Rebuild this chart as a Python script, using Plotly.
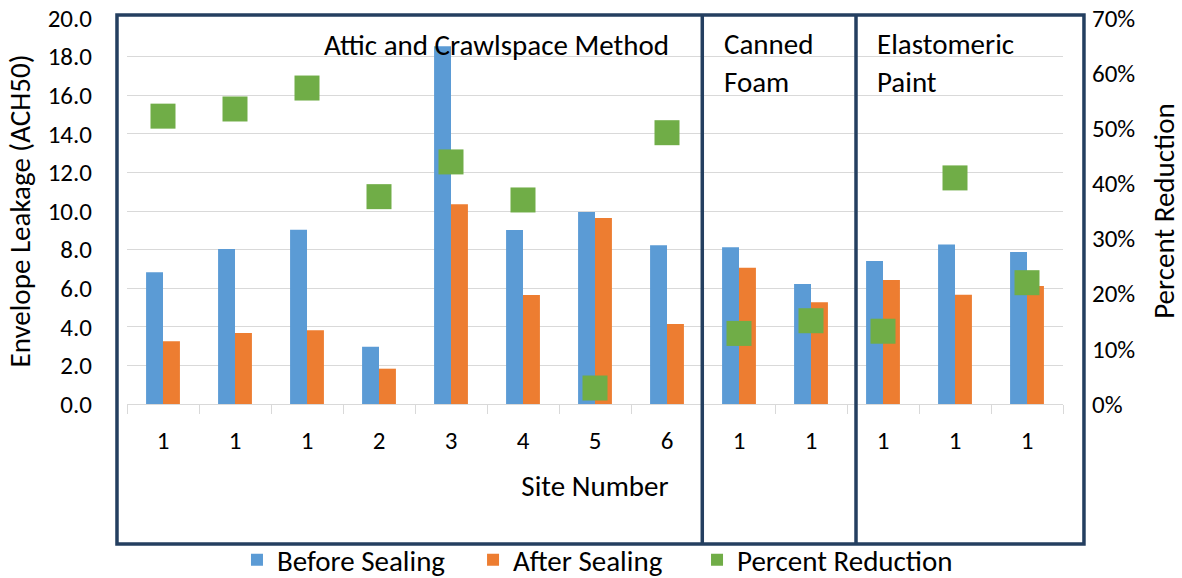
import plotly.graph_objects as go

site_labels = ["1", "1", "1", "2", "3", "4", "5", "6", "1", "1", "1", "1", "1"]
before_sealing = [6.82, 8.03, 9.03, 2.97, 18.53, 9.02, 9.95, 8.22, 8.12, 6.22, 7.41, 8.27, 7.88]
after_sealing = [3.25, 3.68, 3.82, 1.83, 10.35, 5.65, 9.64, 4.15, 7.06, 5.27, 6.42, 5.66, 6.11]
percent_reduction = [0.522, 0.535, 0.573, 0.376, 0.439, 0.370, 0.029, 0.492, 0.128, 0.151, 0.132, 0.410, 0.220]
positions = list(range(len(site_labels)))
boundaries = [p - 0.5 for p in positions] + [positions[-1] + 0.5]

FONT = "Carlito, Lato, sans-serif"
FS = 29
TFS = 25
TXT = "#000000"
BORDER = "#243F60"
GRID = "#D9D9D9"

fig = go.Figure()
fig.add_trace(go.Bar(x=positions, y=before_sealing, name="Before Sealing", legend="legend",
                     marker=dict(color="#5B9BD5", line=dict(width=0))))
fig.add_trace(go.Bar(x=positions, y=after_sealing, name="After Sealing", legend="legend2",
                     marker=dict(color="#ED7D31", line=dict(width=0))))
fig.add_trace(go.Scatter(x=positions, y=percent_reduction, name="Percent Reduction",
                         mode="markers", yaxis="y2", legend="legend3",
                         marker=dict(symbol="square", size=25, color="#70AD47")))
# invisible trace to hold the boundary tick axis
fig.add_trace(go.Scatter(x=boundaries, y=[0] * len(boundaries), xaxis="x3", yaxis="y",
                         mode="markers", marker=dict(opacity=0), showlegend=False,
                         hoverinfo="skip"))

legend_common = dict(orientation="h", xanchor="left", y=-0.404, yanchor="middle",
                     font=dict(size=FS), itemsizing="constant", bgcolor="rgba(0,0,0,0)")

fig.update_layout(
    width=1182, height=578,
    margin=dict(l=127, r=119, t=18, b=174, autoexpand=False),
    paper_bgcolor="white", plot_bgcolor="white",
    font=dict(family=FONT, size=FS, color=TXT),
    barmode="group", bargap=0.53, bargroupgap=0,
    showlegend=True,
    legend=dict(x=0.1175, **legend_common),
    legend2=dict(x=0.3697, **legend_common),
    legend3=dict(x=0.609, **legend_common),
    xaxis=dict(range=[-0.5, 12.5], tickmode="array", tickvals=positions, ticktext=site_labels,
               showgrid=False, zeroline=False, ticks="", showline=True, linecolor=GRID,
               linewidth=1, ticklabelstandoff=14, automargin=False, tickfont=dict(size=TFS),
               title=dict(text="Site Number", standoff=20, font=dict(size=FS))),
    xaxis3=dict(range=[-0.5, 12.5], overlaying="x", tickmode="array", tickvals=boundaries,
                showticklabels=False, ticks="outside", ticklen=9, tickcolor=GRID,
                showgrid=False, zeroline=False, showline=False, automargin=False),
    yaxis=dict(range=[0, 20], dtick=2, tickformat=".1f", showgrid=True, gridcolor=GRID,
               gridwidth=1, zeroline=False, showline=False, ticks="", ticklabelstandoff=34,
               automargin=False, tickfont=dict(size=TFS), ticklabeloverflow="allow",
               title=dict(text="Envelope Leakage (ACH50)", standoff=8, font=dict(size=FS))),
    yaxis2=dict(range=[0, 0.7], dtick=0.1, tickformat=".0%", overlaying="y", side="right",
                showgrid=False, zeroline=False, showline=False, ticks="", ticklabelstandoff=28,
                automargin=False, tickfont=dict(size=TFS), ticklabeloverflow="allow",
                title=dict(text="Percent Reduction", standoff=36, font=dict(size=FS))),
)

# enclosing boxes
fig.add_shape(type="rect", xref="paper", yref="paper", x0=-0.0107, x1=1.0224, y0=-0.3627, y1=1.0078,
              line=dict(color=BORDER, width=3.5), fillcolor="rgba(0,0,0,0)", layer="above")
for xv in [7.49, 9.625]:
    fig.add_shape(type="line", xref="x", yref="paper", x0=xv, x1=xv, y0=-0.3627, y1=1.0078,
                  line=dict(color=BORDER, width=3.5), layer="above")

fig.add_annotation(x=4.625, xref="x", y=0.93, yref="paper", text="Attic and Crawlspace Method",
                   showarrow=False, xanchor="center", yanchor="middle", font=dict(size=FS))
fig.add_annotation(x=7.76, xref="x", y=0.985, yref="paper", text="Canned<br>Foam",
                   showarrow=False, xanchor="left", yanchor="top", align="left", font=dict(size=FS))
fig.add_annotation(x=9.89, xref="x", y=0.985, yref="paper", text="Elastomeric<br>Paint",
                   showarrow=False, xanchor="left", yanchor="top", align="left", font=dict(size=FS))

fig.write_html("out.html", config={"displayModeBar": False},
               post_script="document.body.style.margin='0';")
